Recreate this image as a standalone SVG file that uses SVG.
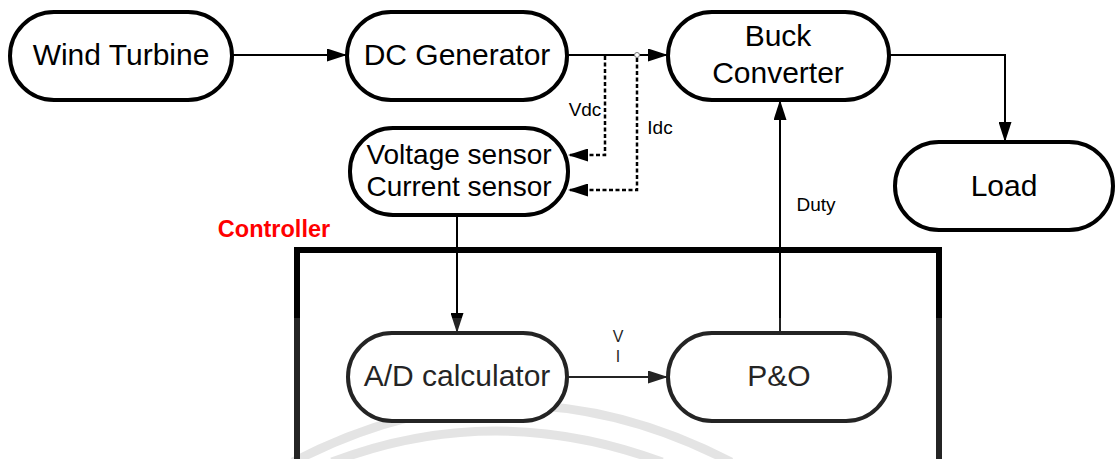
<svg xmlns="http://www.w3.org/2000/svg" width="1116" height="459" viewBox="0 0 1116 459">
<defs>
<marker id="arr" viewBox="0 0 20 13" refX="20" refY="6.5" markerWidth="20" markerHeight="13" markerUnits="userSpaceOnUse" orient="auto">
<path d="M0,0 L20,6.5 L0,13 Z" fill="#000"/>
</marker>
<style>
.node rect{fill:#fff;stroke:#000;stroke-width:4}
.t{font-family:"Liberation Sans",Arial,sans-serif;fill:#000;text-anchor:middle}
.big{font-size:30px}
.mid{font-size:28px}
.sm{font-size:19px}
.xs{font-size:16px}
.c{fill:none;stroke:#000;stroke-width:2}
.d{fill:none;stroke:#000;stroke-width:2.5;stroke-dasharray:4 2.5}
</style>
</defs>
<rect width="1116" height="459" fill="#fff"/>
<g id="watermark" fill="none" stroke="#e0e0e0" stroke-width="9">
<path d="M293,462 Q511,348 731,462"/>
<path d="M332,462 Q495,400 662,462"/>
</g>
<g id="controller">
<rect x="297" y="250" width="642" height="212" fill="none" stroke="#000" stroke-width="6"/>
<text class="t" x="274" y="237" style="font-size:23.5px;font-weight:bold;fill:#ff0000">Controller</text>
</g>
<g id="connectors">
<path class="c" d="M232,55 H347" marker-end="url(#arr)"/>
<path class="c" d="M567,55 H668" marker-end="url(#arr)"/>
<path class="d" d="M605,56 V155 H568" marker-end="url(#arr)"/>
<path class="d" d="M637,58 V190 H568" marker-end="url(#arr)"/>
<circle cx="637" cy="55" r="2.5" fill="#fff" stroke="#777" stroke-width="1"/>
<path class="c" d="M889,55 H1005 V142" marker-end="url(#arr)"/>
<path class="c" d="M457,215 V333" marker-end="url(#arr)"/>
<path class="c" d="M567,377 H668" marker-end="url(#arr)"/>
<path class="c" d="M780,333 V100" marker-end="url(#arr)"/>
<text class="t sm" x="585" y="116">Vdc</text>
<text class="t sm" x="660" y="134">Idc</text>
<text class="t sm" x="816" y="211">Duty</text>
<text class="t xs" x="618" y="342">V</text>
<text class="t xs" x="618" y="362">I</text>
</g>
<g id="wind" class="node"><rect x="10" y="12" width="222" height="88" rx="44"/><text class="t big" x="121" y="65">Wind Turbine</text></g>
<g id="dcgen" class="node"><rect x="347" y="12" width="220" height="88" rx="44"/><text class="t big" x="457" y="65">DC Generator</text></g>
<g id="buck" class="node"><rect x="668" y="12" width="221" height="88" rx="44"/><text class="t big" x="778" y="46">Buck</text><text class="t big" x="778" y="83">Converter</text></g>
<g id="load" class="node"><rect x="895" y="142" width="218" height="88" rx="44"/><text class="t big" x="1004" y="196">Load</text></g>
<g id="sensor" class="node"><rect x="350" y="128" width="218" height="87" rx="43"/><text class="t mid" x="459" y="164">Voltage sensor</text><text class="t mid" x="459" y="196">Current sensor</text></g>
<g id="ad" class="node"><rect x="348" y="333" width="219" height="88" rx="44"/><text class="t big" x="457" y="386">A/D calculator</text></g>
<g id="po" class="node"><rect x="668" y="333" width="222" height="88" rx="44"/><text class="t big" x="779" y="386">P&amp;O</text></g>
<rect x="0" y="318" width="1067" height="141" fill="#fdfdfd" opacity="0.14"/>
</svg>
